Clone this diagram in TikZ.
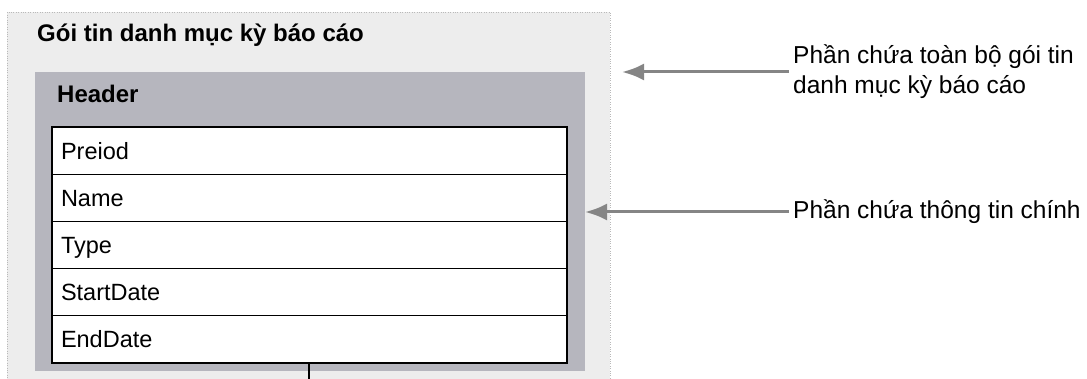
\documentclass[tikz,border=0pt]{standalone}
\usepackage{fontspec}
\setmainfont{Liberation Sans}
\usetikzlibrary{positioning,arrows.meta}
\definecolor{pkgfill}{HTML}{EDEDED}
\definecolor{hdrfill}{HTML}{B6B6BE}
\definecolor{arrowgray}{HTML}{858585}

\begin{document}
\begin{tikzpicture}[x=1pt, y=-1pt,
  pkg/.style={draw=gray!55, dotted, fill=pkgfill, minimum width=603pt, minimum height=380pt, inner sep=0pt, outer sep=0pt},
  hdr/.style={fill=hdrfill, minimum width=550pt, minimum height=299pt, inner sep=0pt, outer sep=0pt},
  row/.style={draw, line width=1.2pt, fill=white, text width=497pt, inner xsep=9pt, inner ysep=15.1pt, outer sep=0pt, align=left, text height=17pt, text depth=0pt, font=\fontsize{23.5}{28}\selectfont},
  ttl/.style={font=\bfseries\fontsize{24}{29}\selectfont, inner sep=0pt},
  lbl/.style={font=\fontsize{24.5}{30}\selectfont, align=left, inner sep=4pt},
  garrow/.style={draw=arrowgray, line width=3pt, -{Latex[length=22pt,width=17pt]}}]
  \useasboundingbox (0,0) rectangle (1087,379);
  \node[pkg, anchor=north west] (pkg) at (7,12) {};
  \node[hdr, anchor=north west] (hdr) at (35,72) {};
  \node[ttl, anchor=base west] (title) at (37,42) {Gói tin danh mục kỳ báo cáo};
  \node[ttl, anchor=base west] (htxt) at (57,103) {Header};
  \node[row, anchor=north west] (r1) at (52,127) {Preiod};
  \node[row, below=0pt of r1] (r2) {Name};
  \node[row, below=0pt of r2] (r3) {Type};
  \node[row, below=0pt of r3] (r4) {StartDate};
  \node[row, below=0pt of r4] (r5) {EndDate};
  \node[lbl, anchor=west] (lab1) at (789,72) {Phần chứa toàn bộ gói tin\\danh mục kỳ báo cáo};
  \node[lbl, anchor=west] (lab2) at (789,212) {Phần chứa thông tin chính};
  \coordinate (out) at (309,379);
  \draw[garrow] (lab1.west) -- ([xshift=12pt]pkg.east |- lab1.west);
  \draw[garrow] (lab2.west) -- (hdr.east |- lab2.west);
  \draw[line width=1.3pt] (r5.south -| out) -- (out);
\end{tikzpicture}
\end{document}
